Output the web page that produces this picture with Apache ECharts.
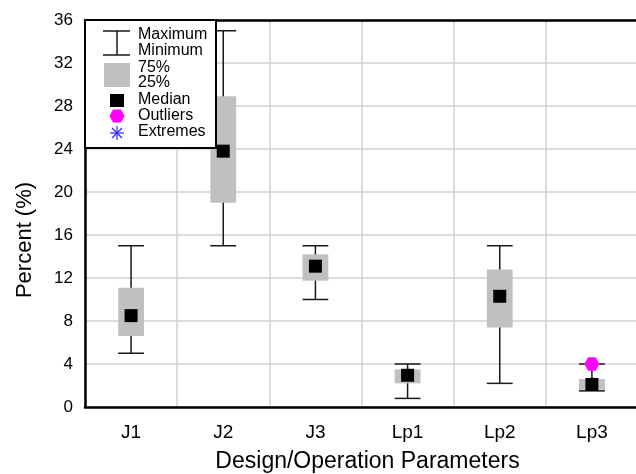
<!DOCTYPE html>
<html>
<head>
<meta charset="utf-8">
<script src="https://cdn.jsdelivr.net/npm/echarts@6/dist/echarts.min.js"></script>
<style>
html,body{margin:0;padding:0;background:#fff;}
#chart{width:636px;height:474px;}
</style>
</head>
<body>
<div id="chart"></div>
<script>
const categories = ['J1', 'J2', 'J3', 'Lp1', 'Lp2', 'Lp3'];
const minValues    = [5.0, 15.0, 10.0, 0.8, 2.2, 1.5];
const q1Values     = [6.6, 19.0, 11.75, 2.2, 7.4, 1.6];
const medianValues = [8.5, 23.8, 13.1, 2.95, 10.3, 2.1];
const q3Values     = [11.1, 28.9, 14.2, 3.5, 12.8, 2.6];
const maxValues    = [15.0, 35.0, 15.0, 4.0, 15.0, 4.0];
const outlierPoints = [['Lp3', 4.0]];
const extremePoints = [];
const yMin = 0, yMax = 36, yInterval = 4;

const FONT = '"Liberation Sans", Arial, Helvetica, sans-serif';
const chart = echarts.init(document.getElementById('chart'), null, {renderer: 'canvas'});

const boxData = categories.map((c, i) => [i, minValues[i], q1Values[i], medianValues[i], q3Values[i], maxValues[i]]);
const hexPath = 'path://M0,5 L3,0 L9,0 L12,5 L9,10 L3,10 Z';

function renderBox(params, api) {
  const i = api.value(0);
  const pMin = api.coord([i, api.value(1)]);
  const pQ1 = api.coord([i, api.value(2)]);
  const pQ3 = api.coord([i, api.value(4)]);
  const pMax = api.coord([i, api.value(5)]);
  const w = api.size([1, 0])[0] * 0.28;
  const cx = pMin[0];
  const ls = {stroke: '#1a1a1a', lineWidth: 1.5};
  return {
    type: 'group',
    children: [
      {type: 'line', shape: {x1: cx, y1: pMin[1], x2: cx, y2: pMax[1]}, style: ls},
      {type: 'line', shape: {x1: cx - w / 2, y1: pMin[1], x2: cx + w / 2, y2: pMin[1]}, style: ls},
      {type: 'line', shape: {x1: cx - w / 2, y1: pMax[1], x2: cx + w / 2, y2: pMax[1]}, style: ls},
      {type: 'rect', shape: {x: cx - w / 2, y: pQ3[1], width: w, height: pQ1[1] - pQ3[1]}, style: {fill: '#c0c0c0'}}
    ]
  };
}

// Legend box graphics
const LX = 117, TX = 138;
const legendEls = [
  {type: 'rect', z: 5, shape: {x: 85, y: 20, width: 131, height: 128}, style: {fill: '#fff', stroke: '#000', lineWidth: 2}},
  {type: 'line', z: 6, shape: {x1: LX, y1: 31, x2: LX, y2: 55}, style: {stroke: '#1a1a1a', lineWidth: 1.5}},
  {type: 'line', z: 6, shape: {x1: 103, y1: 31, x2: 130, y2: 31}, style: {stroke: '#1a1a1a', lineWidth: 1.5}},
  {type: 'line', z: 6, shape: {x1: 103, y1: 55, x2: 130, y2: 55}, style: {stroke: '#1a1a1a', lineWidth: 1.5}},
  {type: 'rect', z: 6, shape: {x: 104, y: 63, width: 26, height: 24}, style: {fill: '#c0c0c0'}},
  {type: 'rect', z: 6, shape: {x: 110, y: 94, width: 14, height: 13}, style: {fill: '#000'}},
  {type: 'polygon', z: 6, shape: {points: [[109.5, 116], [113, 109.5], [121, 109.5], [124.5, 116], [121, 122.5], [113, 122.5]]}, style: {fill: '#ff00ff'}},
  {type: 'line', z: 6, shape: {x1: LX, y1: 126, x2: LX, y2: 140}, style: {stroke: '#2a2aff', lineWidth: 1.2}},
  {type: 'line', z: 6, shape: {x1: LX - 7, y1: 133, x2: LX + 7, y2: 133}, style: {stroke: '#2a2aff', lineWidth: 1.2}},
  {type: 'line', z: 6, shape: {x1: LX - 5, y1: 128, x2: LX + 5, y2: 138}, style: {stroke: '#2a2aff', lineWidth: 1.2}},
  {type: 'line', z: 6, shape: {x1: LX - 5, y1: 138, x2: LX + 5, y2: 128}, style: {stroke: '#2a2aff', lineWidth: 1.2}}
];
const legendTexts = [['Maximum', 35], ['Minimum', 51], ['75%', 67.5], ['25%', 83], ['Median', 99.5], ['Outliers', 116], ['Extremes', 132]];
legendTexts.forEach(([t, y]) => legendEls.push({
  type: 'text', z: 6, x: TX, y: y,
  style: {text: t, fill: '#000', font: '16px ' + FONT, textAlign: 'left', textVerticalAlign: 'middle'}
}));
legendEls.push({
  type: 'text', z: 6, x: 25, y: 240, rotation: Math.PI / 2,
  style: {text: 'Percent (%)', fill: '#000', font: '22px ' + FONT, textAlign: 'center', textVerticalAlign: 'middle'}
});

const option = {
  backgroundColor: '#fff',
  animation: false,
  grid: {left: 85, right: -2, top: 20, bottom: 67, containLabel: false, outerBoundsMode: 'none'},
  xAxis: [
    {
      type: 'category', data: categories, position: 'bottom',
      axisLine: {show: true, lineStyle: {color: '#000', width: 2.5}},
      axisTick: {show: false},
      axisLabel: {color: '#000', fontSize: 19, fontFamily: FONT, margin: 16},
      splitLine: {show: true, lineStyle: {color: '#d0d0d0', width: 1.5}},
      name: 'Design/Operation Parameters', nameLocation: 'middle', nameGap: 43,
      nameTextStyle: {color: '#000', fontSize: 23, fontFamily: FONT, padding: [0, 0, 0, 12]}
    },
    {
      type: 'category', data: categories, position: 'top',
      axisLine: {show: true, lineStyle: {color: '#000', width: 2.5}},
      axisTick: {show: false}, axisLabel: {show: false}, splitLine: {show: false}
    }
  ],
  yAxis: {
    type: 'value', min: yMin, max: yMax, interval: yInterval,
    axisLine: {show: true, lineStyle: {color: '#000', width: 2.5}},
    axisTick: {show: false},
    axisLabel: {color: '#000', fontSize: 17, fontFamily: FONT, margin: 12},
    splitLine: {show: true, lineStyle: {color: '#d0d0d0', width: 1.5}}
  },
  graphic: legendEls,
  series: [
    {type: 'custom', name: 'Box', data: boxData, renderItem: renderBox, z: 2, encode: {x: 0, y: [1, 2, 3, 4, 5]}},
    {type: 'scatter', name: 'Median', data: medianValues, symbol: 'rect', symbolSize: 13, itemStyle: {color: '#000', opacity: 1}, z: 10},
    {type: 'scatter', name: 'Outliers', data: outlierPoints, symbol: hexPath, symbolSize: [15, 13.5], itemStyle: {color: '#ff00ff', opacity: 1}, z: 10},
    {type: 'scatter', name: 'Extremes', data: extremePoints, symbol: 'circle', itemStyle: {color: '#2a2aff', opacity: 1}, z: 10}
  ]
};
chart.setOption(option);
</script>
</body>
</html>
